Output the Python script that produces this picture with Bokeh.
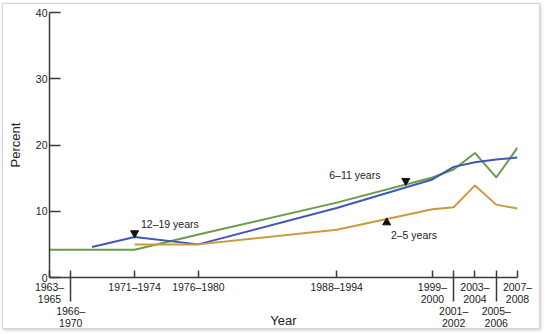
from bokeh.plotting import figure
from bokeh.models import FixedTicker, Label, Range1d
from bokeh.embed import file_html
from bokeh.resources import INLINE

# ---- data ----
period_labels = ["1963–\n1965", "1966–\n1970", "1971–1974", "1976–1980", "1988–1994",
                 "1999–\n2000", "2001–\n2002", "2003–\n2004", "2005–\n2006", "2007–\n2008"]
period_x = [1964, 1966, 1972, 1978, 1991, 2000, 2002, 2004, 2006, 2008]
label_row = [0, 1, 0, 0, 0, 0, 1, 0, 1, 0]

x_6_11 = [1964, 1972, 1978, 1991, 2000, 2002, 2004, 2006, 2008]
y_6_11 = [4.2, 4.2, 6.5, 11.3, 15.1, 16.3, 18.8, 15.1, 19.6]

x_12_19 = [1968, 1972, 1978, 1991, 2000, 2002, 2004, 2006, 2008]
y_12_19 = [4.6, 6.1, 5.0, 10.5, 14.8, 16.7, 17.4, 17.8, 18.1]

x_2_5 = [1972, 1978, 1991, 2000, 2002, 2004, 2006, 2008]
y_2_5 = [5.0, 5.0, 7.2, 10.3, 10.6, 13.9, 11.0, 10.4]

y_ticks = [0, 10, 20, 30, 40]

FONT = "Liberation Sans"
GREEN = "#6b9b4b"
BLUE = "#3f58b8"
ORANGE = "#c99a3e"
AXIS = "#3a3a3a"
NB = "\u00a0"

p = figure(width=538, height=326, output_backend="svg", toolbar_location=None,
           x_range=Range1d(1964, 2008), y_range=Range1d(0, 40),
           min_border_left=46, min_border_right=24, min_border_top=8, min_border_bottom=52)
p.styles = {"border": "1px solid #d6d6d6", "box-shadow": "1px 1px 3px #c8c8c8",
            "margin-left": "2px", "margin-top": "3px"}
p.outline_line_color = None
p.grid.visible = False
p.background_fill_color = "white"
p.border_fill_color = "white"

# lines
p.line(x_6_11, y_6_11, line_color=GREEN, line_width=2)
p.line(x_12_19, y_12_19, line_color=BLUE, line_width=2)
p.line(x_2_5, y_2_5, line_color=ORANGE, line_width=2)

# x axis: staggered period labels (second row pushed down by blank lines)
overrides = {}
for lab, xv, row in zip(period_labels, period_x, label_row):
    overrides[xv] = (NB + "\n" + NB + "\n" + lab) if row == 1 else lab

xa = p.xaxis[0]
xa.ticker = FixedTicker(ticks=period_x, minor_ticks=[period_x[i] for i, r in enumerate(label_row) if r == 1])
xa.major_label_overrides = overrides
xa.major_tick_in = 7
xa.major_tick_out = 0
xa.minor_tick_in = 0
xa.minor_tick_out = 24
xa.minor_tick_line_color = AXIS
xa.minor_tick_line_width = 1.5
xa.major_tick_line_color = AXIS
xa.major_tick_line_width = 1.5
xa.axis_line_color = AXIS
xa.axis_line_width = 1.5
xa.major_label_text_font = FONT
xa.major_label_text_font_size = "10.5px"
xa.major_label_text_color = "#222222"
xa.major_label_text_line_height = 1.0
xa.major_label_standoff = -21
xa.axis_label = "Year"
xa.axis_label_text_font = FONT
xa.axis_label_text_font_size = "13px"
xa.axis_label_text_font_style = "normal"
xa.axis_label_text_color = "#222222"
xa.axis_label_standoff = -19

# y axis
ya = p.yaxis[0]
ya.ticker = FixedTicker(ticks=y_ticks)
ya.minor_tick_line_color = None
ya.major_tick_in = 11
ya.major_tick_out = 0
ya.major_tick_line_color = AXIS
ya.major_tick_line_width = 1.5
ya.axis_line_color = AXIS
ya.axis_line_width = 1.5
ya.major_label_text_font = FONT
ya.major_label_text_font_size = "10.5px"
ya.major_label_text_color = "#222222"
ya.major_label_standoff = 2
ya.axis_label = "Percent"
ya.axis_label_text_font = FONT
ya.axis_label_text_font_size = "13px"
ya.axis_label_text_font_style = "normal"
ya.axis_label_text_color = "#222222"
ya.axis_label_standoff = 10

# series annotations
p.add_layout(Label(x=1972.6, y=8.1, text="12–19 years", text_font=FONT, text_font_size="10.5px",
                   text_color="#222222", text_baseline="middle"))
p.add_layout(Label(x=1990.3, y=15.5, text="6–11 years", text_font=FONT, text_font_size="10.5px",
                   text_color="#222222", text_baseline="middle"))
p.add_layout(Label(x=1996.1, y=6.4, text="2–5 years", text_font=FONT, text_font_size="10.5px",
                   text_color="#222222", text_baseline="middle"))
p.scatter([1972, 1997.5], [6.7, 14.6], marker="inverted_triangle", size=8,
          fill_color="#111111", line_color="#111111")
p.scatter([1995.7], [8.3], marker="triangle", size=8,
          fill_color="#111111", line_color="#111111")

open("out.html", "w").write(file_html(p, INLINE))
